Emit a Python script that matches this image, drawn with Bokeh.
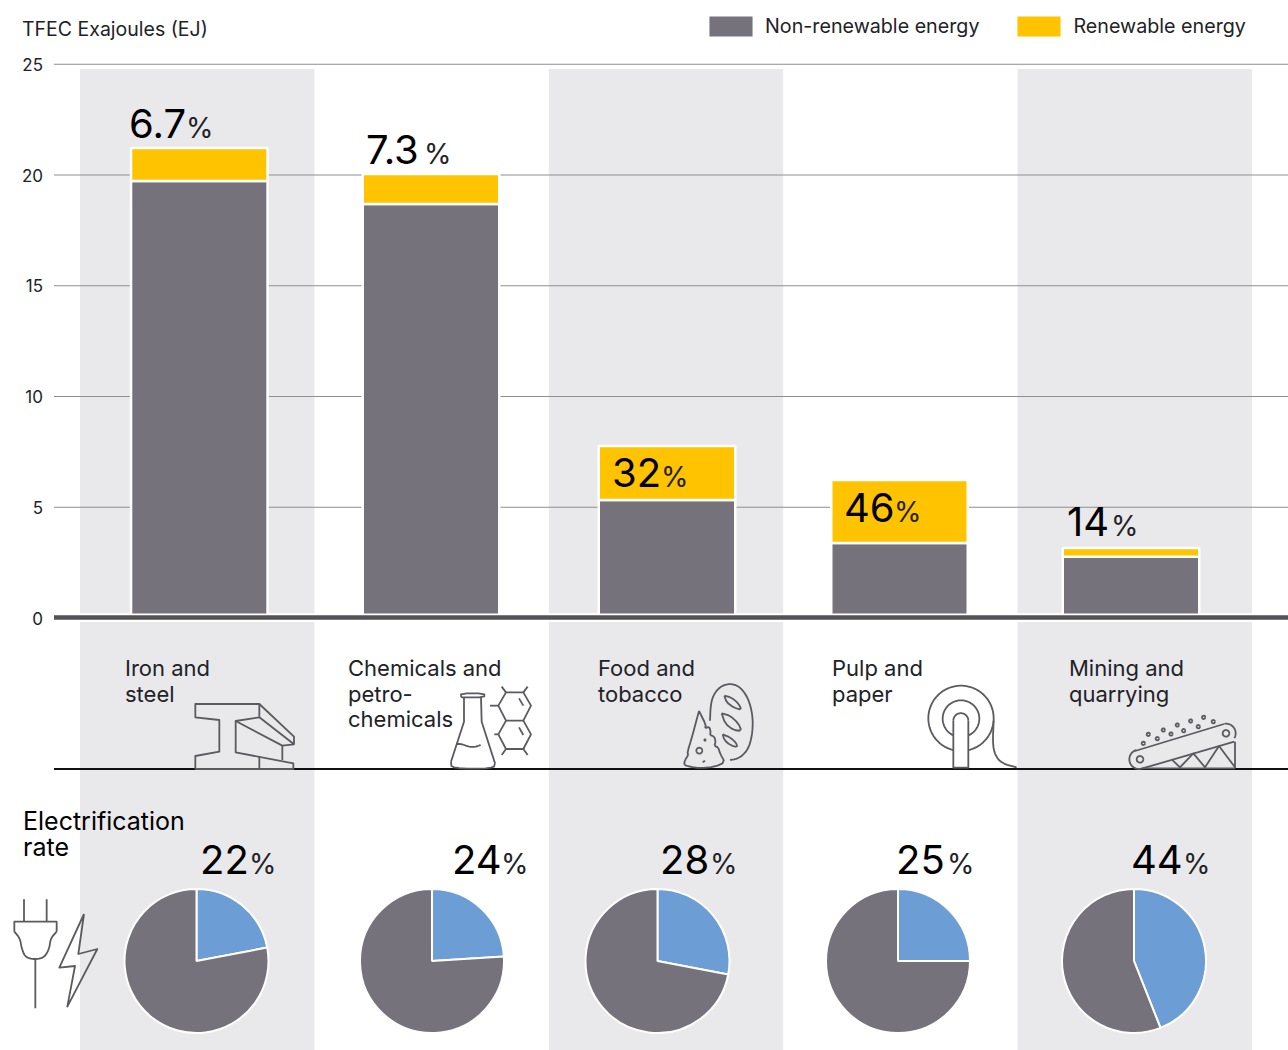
import numpy as np
from bokeh.plotting import figure
from bokeh.models import Range1d, LinearAxis, FixedTicker, Legend, LegendItem
from bokeh.core.properties import value
from bokeh.embed import file_html
from bokeh.resources import INLINE

# ---------- data ----------
categories = ["Iron and\nsteel", "Chemicals and\npetro-\nchemicals", "Food and\ntobacco", "Pulp and\npaper", "Mining and\nquarrying"]
non_renewable = [19.73, 18.69, 5.33, 3.39, 2.76]
total = [21.22, 20.05, 7.76, 6.23, 3.16]
renewable_share = ["6.7", "7.3", "32", "46", "14"]
electrification = [22, 24, 28, 25, 44]
y_ticks = [0, 5, 10, 15, 20, 25]
series_names = ["Non-renewable energy", "Renewable energy"]
y_title = "TFEC Exajoules (EJ)"
elec_title = ["Electrification", "rate"]

# ---------- style / layout ----------
FONT = "Inter"
GRAY, YELLOW, BLUE, BAND = "#75727c", "#ffc300", "#6d9dd5", "#e9e9eb"
ICON = "#5a5a60"
INK = "#222226"
W, H = 1288, 1050
PX_PER_EJ = 22.15
Y0 = 618.0


def Y(py):
    return (Y0 - py) / PX_PER_EJ


def Ys(seq):
    return [Y(v) for v in seq]


band_left = [80 + 234.4 * i for i in range(5)]
band_w = 234.4
bar_center = [199.3, 431.0, 667.0, 899.5, 1131.0]
bar_w = 136.5
pct_x = [129, 366, 612, 844, 1067]
pct_sign_x = [186, 424, 661, 894, 1111]
pct_base = [139, 165, 488, 523, 537]
label_x = [125, 348, 598, 832, 1069]
pie_x = [196.5, 432, 657.5, 898, 1134]
pie_y = 961
elec_x = [200, 452, 660, 896, 1131]
elec_sign_x = [249, 501, 710, 947, 1183]

p = figure(width=W, height=H, output_backend="svg", toolbar_location=None,
           x_range=Range1d(0.5, W + 0.5), y_range=Range1d(Y(H + 0.5), Y(0.5)),
           min_border=0, x_axis_location=None, y_axis_location=None,
           outline_line_color=None, background_fill_color="white", border_fill_color="white")
p.grid.visible = False


def txt(xs, pys, labels, size, color=INK):
    # the baseline of a text in the svg output sits 0.4 em under its anchor
    p.text(x=xs, y=Ys(pys), text=labels, text_font=value(FONT), text_font_size=f"{size}px",
           text_color=color, text_baseline="alphabetic", y_offset=-0.4 * size)


# bands
shaded = [0, 2, 4]
bx = [band_left[i] for i in shaded]
p.quad(left=bx, right=[b + band_w for b in bx], top=[Y(69)] * 3, bottom=[Y(613.5)] * 3,
       fill_color=BAND, line_color=None, level="underlay")
p.quad(left=bx, right=[b + band_w for b in bx], top=[Y(622)] * 3, bottom=[Y(1051)] * 3,
       fill_color=BAND, line_color=None, level="underlay")

# grid lines and axis
p.segment(x0=[54] * 5, x1=[W + 1] * 5, y0=y_ticks[1:], y1=y_ticks[1:], line_color="#8f8f93", line_width=1,
          level="underlay")
ax = LinearAxis(fixed_location=54, ticker=FixedTicker(ticks=y_ticks), axis_line_color=None,
                major_tick_line_color=None, minor_tick_line_color=None, major_tick_out=0, major_tick_in=0,
                major_label_text_font=FONT, major_label_text_font_size="17px",
                major_label_text_color=INK, major_label_standoff=11)
p.add_layout(ax, "left")

# bars
r_non = p.vbar(x=bar_center, width=bar_w, bottom=0, top=non_renewable, fill_color=GRAY,
               line_color="white", line_width=2.5)
r_ren = p.vbar(x=bar_center, width=bar_w, bottom=non_renewable, top=total, fill_color=YELLOW,
               line_color="white", line_width=2.5)

# white gap and baseline
p.quad(left=[80], right=[W + 1], top=[Y(613.5)], bottom=[Y(622)], fill_color="white", line_color=None)
p.segment(x0=[54], x1=[W + 1], y0=[Y(617.4)], y1=[Y(617.4)], line_color="#525257", line_width=4.5)
p.segment(x0=[54], x1=[W + 1], y0=[Y(769)], y1=[Y(769)], line_color="#111114", line_width=2)

# share labels
txt(pct_x, pct_base, renewable_share, 40, "black")
txt(pct_sign_x, pct_base, ["%"] * 5, 28)

# category labels
for cat, lx in zip(categories, label_x):
    lines = cat.split("\n")
    txt([lx] * len(lines), [677 + 25.6 * k for k in range(len(lines))], lines, 22)

# headings
txt([22], [37], [y_title], 19.5)
txt([23, 23], [831, 857], elec_title, 25, "black")

# pies
starts = [np.pi / 2 - 2 * np.pi * e / 100 for e in electrification]
yy = [Y(pie_y)] * 5
p.wedge(x=pie_x, y=yy, radius=72, radius_units="screen", start_angle=[np.pi / 2] * 5, end_angle=starts,
        direction="clock", fill_color=BLUE, line_color="white", line_width=2)
p.wedge(x=pie_x, y=yy, radius=72, radius_units="screen", start_angle=starts, end_angle=[np.pi / 2] * 5,
        direction="clock", fill_color=GRAY, line_color="white", line_width=2)
txt(elec_x, [875] * 5, [str(e) for e in electrification], 40, "black")
txt(elec_sign_x, [875] * 5, ["%"] * 5, 28)


# ---------- icons (hand traced decoration) ----------
def smooth(pts, n=2):
    pts = np.array(pts, float)
    for _ in range(n):
        a, b = pts[:-1], pts[1:]
        mid = np.empty((2 * len(a), 2))
        mid[0::2] = 0.75 * a + 0.25 * b
        mid[1::2] = 0.25 * a + 0.75 * b
        pts = np.vstack([pts[0], mid, pts[-1]])
    return pts.tolist()


def arc(cx, cy, r, a0, a1, ry=None, n=48):
    ry = r if ry is None else ry
    t = np.radians(np.linspace(a0, a1, n))
    return np.c_[cx + r * np.cos(t), cy - ry * np.sin(t)].tolist()


xs_i, ys_i = [], []


def add(ox, oy, *paths):
    for pth in paths:
        pth = np.array(pth, float)
        xs_i.append((ox + pth[:, 0] / 3).tolist())
        ys_i.append(Ys(oy + pth[:, 1] / 3))


# iron and steel
add(190, 695,
    [(16, 222), (16, 183), (88, 170), (88, 75), (16, 67), (16, 27), (208, 27), (208, 67), (137, 78), (137, 172), (310, 205), (310, 222), (16, 222)],
    [(208, 27), (312, 125), (312, 148), (277, 152), (137, 78)],
    [(208, 67), (312, 148)], [(277, 152), (277, 195)], [(208, 183), (208, 222)])
# flask and hexagons
add(445, 680,
    smooth([(57, 52), (48, 52), (48, 40), (118, 40), (118, 52), (57, 52)], 1),
    [(57, 52), (57, 125), (18, 245)],
    smooth([(18, 245), (20, 266), (145, 266), (150, 250)], 2),
    [(150, 250), (110, 125), (108, 52)],
    smooth([(33, 192), (50, 192), (70, 200), (90, 201), (107, 195)]),
    [(160, 77), (183, 37), (235, 37), (258, 77), (235, 122), (183, 122), (160, 77)],
    [(160, 163), (183, 122)], [(235, 122), (258, 163), (235, 207), (183, 207), (160, 163)],
    [(183, 37), (170, 20)], [(235, 37), (248, 20)], [(160, 77), (135, 77)], [(160, 163), (148, 163)],
    [(183, 207), (170, 225)], [(235, 207), (248, 225)], [(222, 55), (235, 77)], [(222, 142), (235, 165)])
# food
add(680, 675,
    smooth([(90, 137), (92, 90), (100, 60), (120, 35), (150, 25), (180, 35), (205, 70), (218, 120), (218, 170), (208, 215), (190, 240), (170, 252), (150, 255)]),
    smooth([(133, 62), (155, 68), (175, 85), (185, 105), (160, 97), (140, 82), (133, 62)], 1),
    smooth([(125, 115), (150, 122), (175, 145), (185, 168), (160, 165), (135, 145), (125, 115)], 1),
    smooth([(128, 178), (150, 187), (168, 203), (172, 217), (150, 210), (133, 195), (128, 178)], 1),
    smooth([(57, 108), (78, 150), (75, 160), (88, 155), (92, 170), (90, 180), (103, 185), (107, 200), (103, 212), (115, 218), (120, 235), (135, 262), (105, 275), (60, 280), (30, 275), (12, 270), (15, 255), (25, 240), (22, 232), (35, 190), (57, 108)], 1),
    arc(58, 227, 9, 0, 360, n=24), arc(75, 195, 2, 0, 360, n=10), [(68, 262), (75, 257)])
# pulp
add(920, 680,
    arc(123, 115, 98, -77, 257, n=90),
    arc(123, 116, 55, -65, 245, n=70),
    [(100, 265), (100, 122)], arc(122.5, 122, 22.5, 180, 0, n=24), [(145, 122), (145, 265)], [(100, 263), (145, 263)],
    smooth([(221, 122), (218, 190), (225, 225), (245, 250), (290, 262)]))
# mining
dots = [(55, 100), (70, 73), (97, 86), (115, 60), (138, 72), (157, 45), (176, 62), (197, 33), (220, 50), (236, 22), (265, 35)]
add(1125, 710,
    [(30, 123), (297, 42)], arc(303, 70, 29, 100, -30, n=20), [(328, 95), (50, 176)], arc(42, 148, 29, 285, 105, n=24),
    arc(45, 148, 10, 0, 360, n=24), arc(303, 70, 10, 0, 360, n=24),
    [(140, 148), (165, 172), (205, 130), (240, 172), (282, 108), (330, 172)], [(330, 95), (330, 175)], [(50, 175), (330, 175)],
    *[arc(a, b, 5, 0, 360, n=14) for a, b in dots])
# plug and bolt
add(10, 890,
    [(42, 28), (42, 95)], [(110, 28), (110, 95)],
    [(13, 125), (13, 95), (140, 95), (140, 125)],
    smooth([(13, 125), (30, 145), (35, 175), (45, 200), (65, 207), (85, 207), (105, 200), (118, 175), (122, 145), (140, 125)]),
    [(76, 207), (76, 355)],
    [(222, 72), (148, 233), (195, 228), (172, 350), (262, 177), (205, 192), (222, 72)])

p.multi_line(xs=xs_i, ys=ys_i, line_color=ICON, line_width=1.8, line_join="round")

# legend
legend = Legend(items=[LegendItem(label=series_names[0], renderers=[r_non]),
                       LegendItem(label=series_names[1], renderers=[r_ren])],
                orientation="horizontal", location=(702, 1010), glyph_width=57, glyph_height=28,
                label_standoff=6, spacing=31, padding=0, margin=0,
                border_line_color=None, background_fill_alpha=0,
                label_text_font=FONT, label_text_font_size="19.7px", label_text_color=INK)
p.add_layout(legend, "center")

open("out.html", "w").write(file_html(p, INLINE))
